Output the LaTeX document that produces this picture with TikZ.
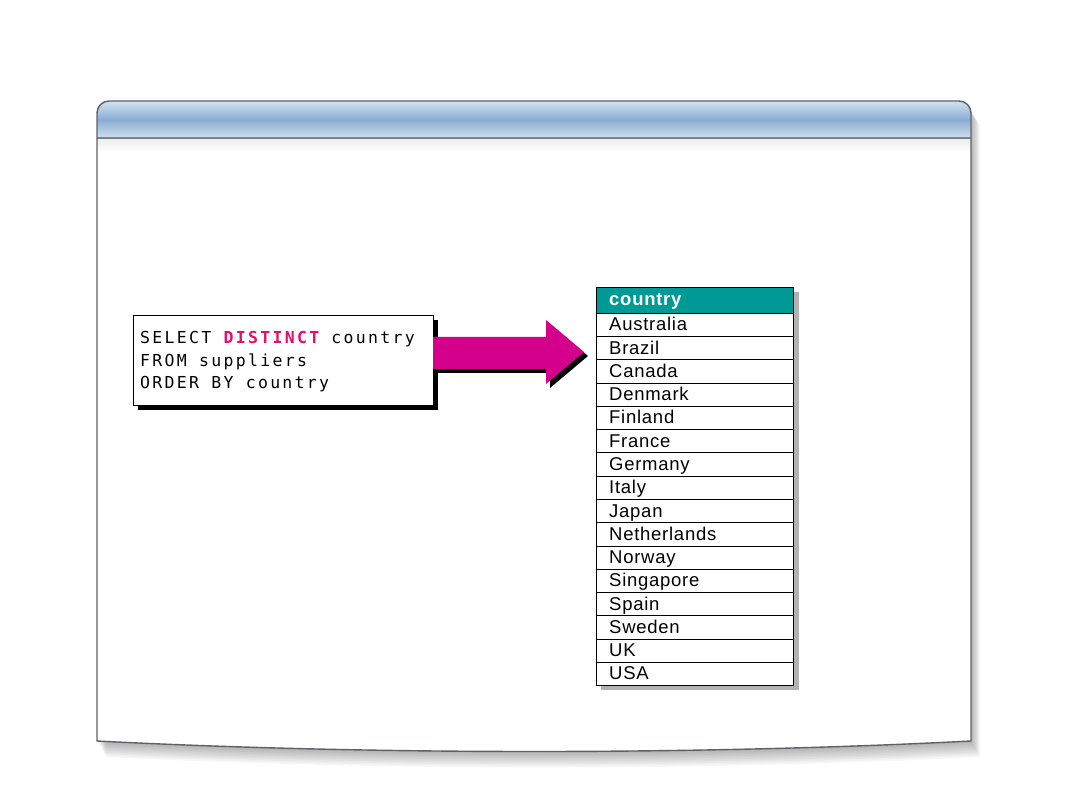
\documentclass[tikz,border=0pt]{standalone}
\usepackage{fontspec}
\setmainfont{Liberation Sans}
\newfontfamily\sqlfont[LetterSpace=14]{DejaVu Sans Mono}
\newfontfamily\rowfont[LetterSpace=4]{Liberation Sans}
\definecolor{arrowmag}{HTML}{D4008C}
\definecolor{distinctpink}{HTML}{EC0C6C}
\definecolor{teal}{HTML}{009A96}
\definecolor{hdrtop}{HTML}{D3E3F2}
\definecolor{hdrmid}{HTML}{8AACD2}
\definecolor{hdrbot}{HTML}{CFE0F1}
\definecolor{framegray}{HTML}{5E6165}
\begin{document}
\begin{tikzpicture}[x=1pt,y=-1pt,
  sqlbox/.style={draw=black, line width=1pt, fill=white, minimum width=300pt, minimum height=90pt, inner sep=0pt, anchor=north west},
  sqltext/.style={inner sep=0pt, anchor=base west, font=\sqlfont\fontsize{16.5}{22.5}\selectfont},
  cell/.style={draw=black, line width=1pt, fill=white, minimum width=197pt, minimum height=23.25pt, inner sep=0pt, anchor=north west},
  celltext/.style={inner sep=0pt, anchor=base west, font=\rowfont\fontsize{18.5}{20}\selectfont},
  hdrcell/.style={draw=black, line width=1pt, fill=teal, minimum width=197pt, minimum height=26pt, inner sep=0pt, anchor=north west},
  hdrtext/.style={inner sep=0pt, anchor=base west, text=white, font=\rowfont\bfseries\fontsize{18.5}{20}\selectfont}
]
\useasboundingbox (0,0) rectangle (1080,810);
\fill[white] (0,0) rectangle (1080,810);

\def\framepath{(97,741) -- (97,113) arc[start angle=180, end angle=270, radius=12] -- (959,101) arc[start angle=270, end angle=360, radius=12] -- (971,741) .. controls (700,755) and (370,755) .. (97,741) -- cycle}
% frame soft shadow
\foreach \k in {1,...,10}{
  \fill[black, opacity=0.03, shift={({0.9*\k},{1.6*\k})}] \framepath;
}
% frame body
\fill[white] \framepath;
% header
\shade[top color=hdrtop, bottom color=hdrbot, middle color=hdrmid]
  (97,138) -- (97,113) arc[start angle=180, end angle=270, radius=12] -- (959,101) arc[start angle=270, end angle=360, radius=12] -- (971,138) -- cycle;
\shade[top color=black!7, bottom color=white] (97.6,138.6) rectangle (970.4,152);
\draw[framegray!80, line width=1.2pt] (97,138) -- (971,138);
% frame outline
\draw[framegray, line width=1.4pt] \framepath;

% SQL box
\fill[black] (138,320) rectangle (438,410);
\node[sqlbox] (sql) at (133,315) {};
\node[sqltext] (sql1) at (140,344) {SELECT \textcolor{distinctpink}{\bfseries DISTINCT} country};
\node[sqltext] (sql2) at (140,367) {FROM suppliers};
\node[sqltext] (sql3) at (140,389) {ORDER BY country};

% arrow
\fill[black, shift={(4,4)}] (433,337) -- (546,337) -- (546,320) -- (584,352) -- (546,384) -- (546,369) -- (433,369) -- cycle;
\fill[arrowmag] (433,337) -- (546,337) -- (546,320) -- (584,352) -- (546,384) -- (546,369) -- (433,369) -- cycle;

% table shadow
\fill[black!30] (601,292) rectangle (799,690);
% header
\node[hdrcell] (hdr) at (596,287) {};
\node[hdrtext] (hdrt) at (609,306) {country};
\foreach \n [count=\i from 0] in {Australia,Brazil,Canada,Denmark,Finland,France,Germany,Italy,Japan,Netherlands,Norway,Singapore,Spain,Sweden,UK,USA}{
  \node[cell] (row\i) at (596,{313+23.25*\i}) {};
  \node[celltext] (t\i) at (609,{313+23.25*\i+18}) {\n};
}
\end{tikzpicture}
\end{document}
